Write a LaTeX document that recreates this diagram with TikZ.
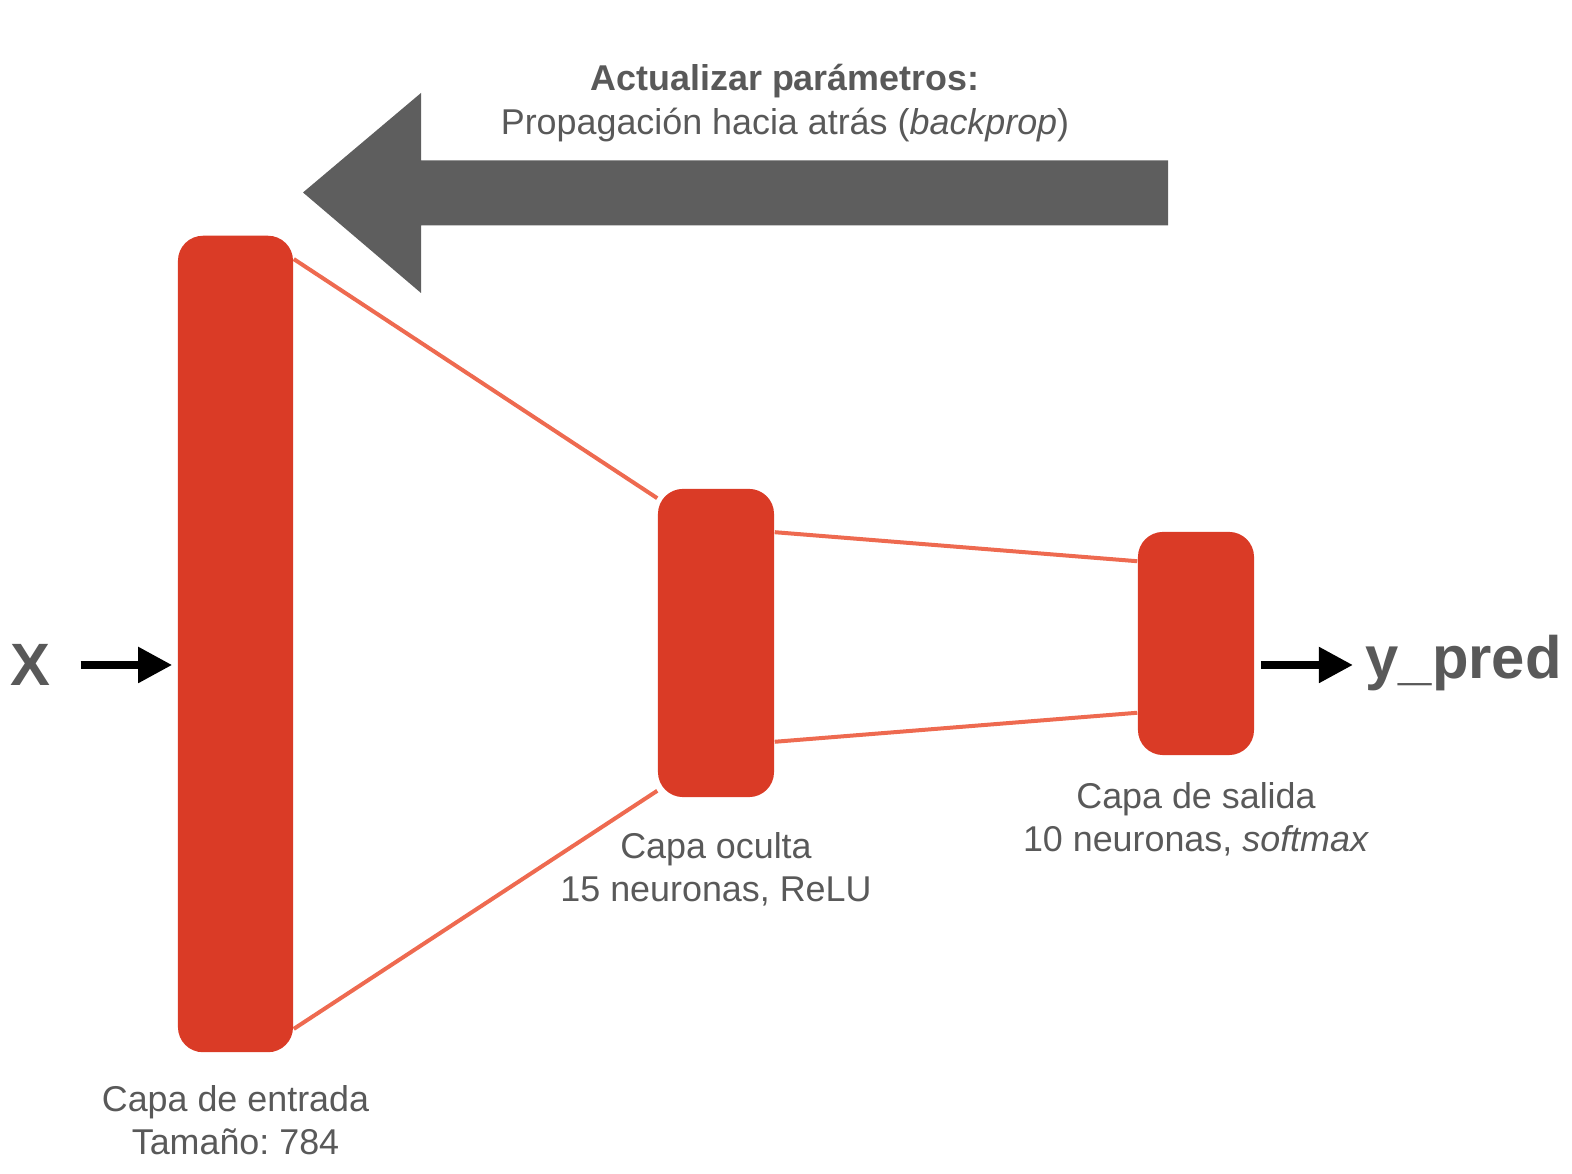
\documentclass[tikz,border=0pt]{standalone}
\usepackage{fontspec}
\setmainfont{Liberation Sans}
\usetikzlibrary{positioning, arrows.meta, calc}
\pgfdeclarelayer{background}
\pgfsetlayers{background,main}
\definecolor{layerred}{HTML}{DA3B26}
\definecolor{linkred}{HTML}{EE6A50}
\definecolor{arrowgray}{HTML}{5E5E5E}
\definecolor{textgray}{HTML}{595959}
\frenchspacing
\tikzset{
    layer/.style={rectangle, rounded corners=0.25cm, fill=layerred, inner sep=0pt},
    link/.style={draw=linkred, line width=0.04cm},
    flow/.style={line width=0.08cm, -{Triangle[length=0.34cm, width=0.34cm]}},
    caption/.style={align=center, text=textgray, inner sep=0pt,
        font=\fontsize{10.2}{12.3}\selectfont},
    bigtext/.style={text=textgray, inner sep=0pt,
        font=\fontsize{17}{20}\selectfont\bfseries},
}

\begin{document}
\begin{tikzpicture}[x=0.01cm, y=-0.01cm]
    \useasboundingbox (0,0) rectangle (1572,1174);

    \node[layer, minimum width=1.15cm, minimum height=8.16cm] (l0) at (235.5,644) {};
    \node[layer, minimum width=1.16cm, minimum height=3.08cm] (l1) at (716,643) {};
    \node[layer, minimum width=1.16cm, minimum height=2.23cm] (l2) at (1196,643.5) {};

    \node[caption, below=0.32cm of l0] (c0) {Capa de entrada\\Tamaño: 784};
    \node[caption, below=0.34cm of l1] (c1) {Capa oculta\\15 neuronas, ReLU};
    \node[caption, below=0.26cm of l2] (c2) {Capa de salida\\10 neuronas, \textit{softmax}};

    \begin{pgfonlayer}{background}
      \draw[link] ($(l0.north east)+(0,24)$) -- ($(l1.north west)+(0,10)$);
      \draw[link] ($(l0.south east)+(0,-24)$) -- ($(l1.south west)+(0,-7)$);
      \draw[link] ($(l1.north east)+(0,44)$) -- ($(l2.north west)+(0,30)$);
      \draw[link] ($(l1.south east)+(0,-56)$) -- ($(l2.south west)+(0,-43)$);
    \end{pgfonlayer}

    \node[bigtext] (xin) at (30,665) {X};
    \node[bigtext, anchor=base west] (ypred) at (1365,679) {y\_pred};
    \draw[flow, shorten <=0.3cm, shorten >=0.05cm] (xin.east) -- (xin.east -| l0.west);
    \draw[flow, shorten <=0.06cm, shorten >=0.12cm] (l2.east |- xin.east) -- (ypred.west |- xin.east);

    \fill[arrowgray] (1168,160.5) -- (421,160.5) -- (421,93) -- (303,192.5)
        -- (421,293) -- (421,225.5) -- (1168,225.5) -- cycle;
    \node[caption, anchor=north] (title) at (785,64)
        {\textbf{Actualizar parámetros:}\\Propagación hacia atrás (\textit{backprop})};
\end{tikzpicture}
\end{document}
